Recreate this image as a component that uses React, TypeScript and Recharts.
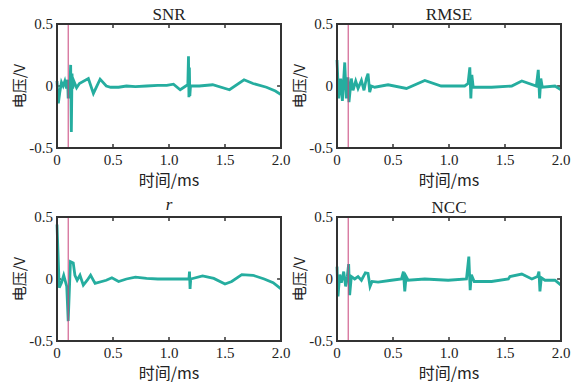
import { LineChart, Line, XAxis, YAxis, ReferenceLine, ReferenceArea } from 'recharts';

// axis ticks shared by all four panels
const xTicks = [0, 0.5, 1.0, 1.5, 2.0];
const yTicks = [-0.5, 0, 0.5];
const markerTime = 0.1;

// [time ms, voltage V]
const snrWave: [number, number][] = [
  [0, 0.04], [0.012, -0.14], [0.025, -0.05], [0.04, 0.03], [0.055, 0.0], [0.07, 0.04],
  [0.085, -0.02], [0.095, 0.05], [0.1, -0.1], [0.106, 0.03], [0.115, 0.0], [0.122, 0.17],
  [0.128, -0.37], [0.134, 0.1], [0.14, -0.02], [0.15, 0.04], [0.175, -0.015], [0.2, 0.02],
  [0.28, 0.06], [0.325, -0.06], [0.385, 0.055], [0.44, 0.0], [0.48, -0.01], [0.55, -0.01],
  [0.62, 0.0], [0.7, -0.005], [0.8, 0.0], [0.9, 0.005], [0.98, 0.005], [1.04, 0.015],
  [1.1, -0.03], [1.15, 0.0], [1.168, 0.01], [1.174, 0.24], [1.178, -0.09], [1.182, 0.15],
  [1.186, -0.08], [1.192, 0.0], [1.27, 0.0], [1.39, 0.01], [1.54, -0.03], [1.67, 0.05],
  [1.75, 0.02], [1.87, -0.01], [1.95, -0.04], [2.0, -0.07],
];

const rmseWave: [number, number][] = [
  [0, 0.21], [0.015, -0.1], [0.033, 0.06], [0.048, -0.12], [0.069, 0.19], [0.083, -0.1],
  [0.098, 0.07], [0.107, -0.13], [0.128, 0.06], [0.143, -0.035], [0.167, 0.04], [0.188, -0.02],
  [0.218, 0.045], [0.241, -0.035], [0.262, 0.06], [0.277, 0.1], [0.292, -0.05], [0.307, 0.0],
  [0.337, -0.01], [0.456, 0.01], [0.62, -0.02], [0.784, 0.045], [0.93, 0.0], [1.14, 0.0],
  [1.17, 0.02], [1.186, 0.15], [1.195, -0.1], [1.204, 0.09], [1.216, -0.01], [1.38, -0.01],
  [1.56, 0.0], [1.65, 0.04], [1.78, 0.0], [1.797, 0.13], [1.809, -0.1], [1.82, 0.06],
  [1.833, -0.01], [1.946, 0.0], [2.0, -0.03],
];

const rWave: [number, number][] = [
  [0, 0.44], [0.02, -0.07], [0.04, -0.03], [0.06, 0.03], [0.087, -0.06], [0.1, -0.34],
  [0.12, 0.14], [0.145, 0.13], [0.16, 0.03], [0.18, -0.01], [0.205, 0.03], [0.235, -0.05],
  [0.27, -0.01], [0.3, 0.03], [0.34, -0.035], [0.44, -0.01], [0.49, 0.01], [0.55, -0.02],
  [0.62, 0.0], [0.7, 0.015], [0.8, 0.005], [0.9, 0.0], [1.0, 0.0], [1.1, 0.0], [1.178, 0.0],
  [1.183, 0.06], [1.188, -0.08], [1.194, 0.0], [1.3, 0.025], [1.4, 0.005], [1.5, -0.04],
  [1.56, -0.02], [1.65, 0.035], [1.75, 0.03], [1.85, 0.0], [1.93, -0.03], [2.0, -0.08],
];

const nccWave: [number, number][] = [
  [0, 0.1], [0.009, -0.14], [0.024, 0.035], [0.039, -0.03], [0.06, 0.06], [0.077, -0.06],
  [0.092, 0.02], [0.104, 0.12], [0.113, -0.13], [0.128, 0.02], [0.158, 0.0], [0.188, 0.02],
  [0.218, -0.01], [0.253, 0.05], [0.277, 0.045], [0.295, -0.06], [0.313, -0.02], [0.367, -0.025],
  [0.486, -0.01], [0.575, 0.0], [0.593, 0.06], [0.605, -0.1], [0.617, 0.02], [0.635, -0.01],
  [0.784, 0.0], [0.993, -0.01], [1.156, 0.0], [1.177, 0.18], [1.189, -0.09], [1.2, 0.035],
  [1.225, -0.02], [1.38, -0.02], [1.53, 0.0], [1.544, 0.02], [1.65, 0.04], [1.74, 0.0],
  [1.79, 0.02], [1.803, 0.06], [1.812, -0.1], [1.824, 0.01], [1.857, -0.01], [1.946, -0.01],
  [2.0, -0.05],
];

const FONT = '"Liberation Serif", serif';
const CJK_FONT = '"Noto Sans CJK SC", "Liberation Serif", sans-serif';
const INK = '#222';
const AXIS = '#333';
const WAVE = '#25ad9f';
const MARKER = '#c8437a';

// inward tick length in data units (plot is 224 x 124 px)
const xTickLen = 0.035;
const yTickLen = 0.032;

const fmt = (v: number) => (v === 0 ? '0' : v.toFixed(1));
const [xMin, xMax] = [xTicks[0], xTicks[xTicks.length - 1]];
const [yMin, yMax] = [yTicks[0], yTicks[yTicks.length - 1]];
const innerX = xTicks.slice(1, -1);
const innerY = yTicks.slice(1, -1);

const PLOT = { left: 57, top: 24, width: 224, height: 124 };

interface PanelProps {
  title: string;
  italic?: boolean;
  wave: [number, number][];
  left: number;
  top: number;
}

function Panel({ title, italic, wave, left, top }: PanelProps) {
  const data = wave.map(([t, v]) => ({ t, v }));
  return (
    <div style={{ position: 'absolute', left, top, width: 291, height: 192 }}>
      <LineChart width={291} height={192} data={data}
        margin={{ top: PLOT.top, right: 291 - PLOT.left - PLOT.width, bottom: 7, left: 17 }}>
        <XAxis dataKey="t" type="number" domain={[xMin, xMax]} ticks={xTicks} tickFormatter={fmt} height={37}
          axisLine={false} tickLine={false} tickSize={0} tickMargin={6} tick={{ fill: INK, fontSize: 15 }} />
        <YAxis type="number" domain={[yMin, yMax]} ticks={yTicks} tickFormatter={fmt} width={40}
          axisLine={false} tickLine={false} tickSize={0} tickMargin={4} tick={{ fill: INK, fontSize: 15 }} />
        <ReferenceArea x1={xMin} x2={xMax} y1={yMin} y2={yMax} fill="none" stroke={AXIS} strokeWidth={2} />
        {innerX.map((x) => (
          <ReferenceLine key={`b${x}`} segment={[{ x, y: yMin }, { x, y: yMin + yTickLen }]} stroke={AXIS} strokeWidth={1.5} />
        ))}
        {innerX.map((x) => (
          <ReferenceLine key={`t${x}`} segment={[{ x, y: yMax }, { x, y: yMax - yTickLen }]} stroke={AXIS} strokeWidth={1.5} />
        ))}
        {innerY.map((y) => (
          <ReferenceLine key={`l${y}`} segment={[{ x: xMin, y }, { x: xMin + xTickLen, y }]} stroke={AXIS} strokeWidth={1.5} />
        ))}
        {innerY.map((y) => (
          <ReferenceLine key={`r${y}`} segment={[{ x: xMax, y }, { x: xMax - xTickLen, y }]} stroke={AXIS} strokeWidth={1.5} />
        ))}
        <Line dataKey="v" type="linear" stroke={WAVE} strokeWidth={2.8} dot={false} isAnimationActive={false} />
        <ReferenceLine x={markerTime} stroke={MARKER} strokeWidth={1} />
        <text x={169} y={italic ? 17 : 20} textAnchor="middle" fill={INK} fontSize={17}
          fontStyle={italic ? 'italic' : 'normal'}>{title}</text>
      </LineChart>
      {/* fallback frame in case the svg frame is not drawn */}
      <div style={{ position: 'absolute', left: PLOT.left - 1, top: PLOT.top - 1, width: PLOT.width + 2,
        height: PLOT.height + 2, border: `2px solid ${AXIS}`, boxSizing: 'border-box', pointerEvents: 'none' }} />
      <div style={{ position: 'absolute', left: 18, top: 86, transform: 'translate(-50%, -50%) rotate(-90deg)',
        whiteSpace: 'nowrap', fontSize: 15, color: INK, lineHeight: 1, fontFamily: CJK_FONT }}>电压/V</div>
      <div style={{ position: 'absolute', left: 169, top: 179, transform: 'translate(-50%, -50%)',
        whiteSpace: 'nowrap', fontSize: 16, color: INK, lineHeight: 1, fontFamily: CJK_FONT }}>时间/ms</div>
    </div>
  );
}

export default function App() {
  return (
    <div style={{ position: 'absolute', left: 0, top: 0, width: 582, height: 385, background: '#fff', fontFamily: FONT }}>
      <Panel title="SNR" wave={snrWave} left={0} top={0} />
      <Panel title="RMSE" wave={rmseWave} left={280} top={0} />
      <Panel title="r" italic wave={rWave} left={0} top={193} />
      <Panel title="NCC" wave={nccWave} left={280} top={193} />
    </div>
  );
}
